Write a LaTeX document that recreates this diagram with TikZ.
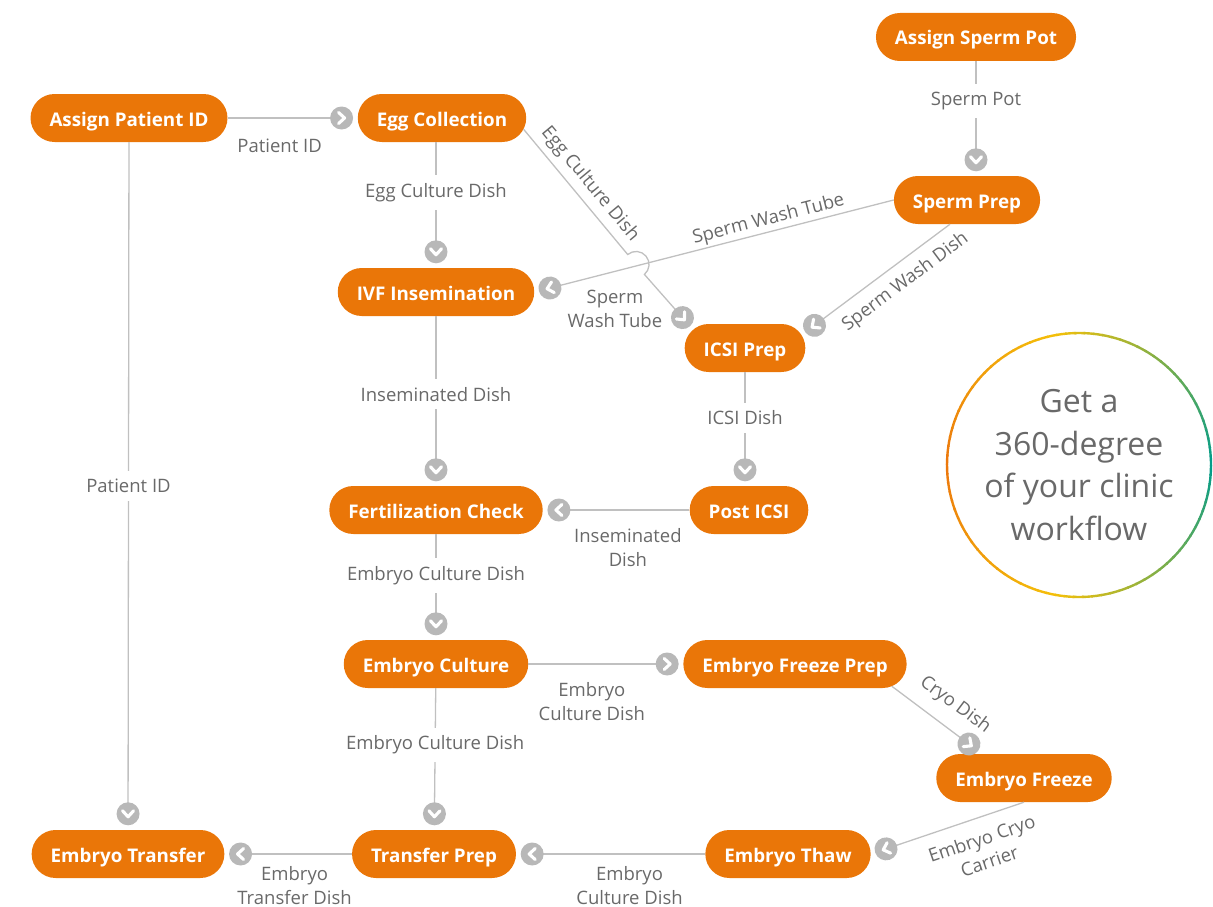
\documentclass[tikz,border=0pt]{standalone}
\usepackage{fontspec}
\setmainfont{Open Sans}
\usepackage{xcolor}
\usepackage{tikz}
\usetikzlibrary{calc,decorations.markings}

\definecolor{stepfill}{RGB}{234,118,8}
\definecolor{linegray}{RGB}{192,192,192}
\definecolor{dotgray}{RGB}{184,184,184}
\definecolor{labelgray}{RGB}{105,105,105}
\definecolor{ringorange}{RGB}{236,118,12}
\definecolor{ringyellow}{RGB}{244,192,10}
\definecolor{ringteal}{RGB}{0,156,140}

\begin{document}
\begin{tikzpicture}[x=1pt, y=-1pt,
    stepbox/.style={rectangle, rounded corners=24pt, fill=stepfill, text=white, font=\bfseries\fontsize{18.8}{20}\selectfont, minimum height=48pt, inner xsep=19pt, text height=17pt, text depth=1pt},
    lbl/.style={text=labelgray, font=\fontsize{18.5}{24}\selectfont, inner sep=2pt, align=center},
    cut/.style={lbl, fill=white, inner ysep=8pt},
    flow/.style={draw=linegray, line width=1.3pt, shorten >=14pt,
      postaction={decorate, decoration={markings, mark=at position 1 with {
        \fill[dotgray] (-16pt,0pt) circle[radius=11.5pt];
        \draw[white, line width=3.1pt, line cap=round, line join=round, shorten >=0pt]
          (-19pt,5.5pt) -- (-13pt,0pt) -- (-19pt,-5.5pt);}}}}
  ]
  \useasboundingbox (0,0) rectangle (1213,907);

  % Steps
  \node[stepbox] (apid) at (129,118) {Assign Patient ID};
  \node[stepbox] (eggc) at (442,118) {Egg Collection};
  \node[stepbox] (spot) at (976,37) {Assign Sperm Pot};
  \node[stepbox] (sprep) at (967,200) {Sperm Prep};
  \node[stepbox] (ivf) at (436,292) {IVF Insemination};
  \node[stepbox] (icsi) at (745,348) {ICSI Prep};
  \node[stepbox] (fcheck) at (436,510) {Fertilization Check};
  \node[stepbox] (posticsi) at (749,510) {Post ICSI};
  \node[stepbox] (eculture) at (436,664) {Embryo Culture};
  \node[stepbox] (fprep) at (795,664) {Embryo Freeze Prep};
  \node[stepbox] (efreeze) at (1024,778) {Embryo Freeze};
  \node[stepbox] (etransfer) at (128,854) {Embryo Transfer};
  \node[stepbox] (tprep) at (434,854) {Transfer Prep};
  \node[stepbox] (ethaw) at (788,854) {Embryo Thaw};

  % Points on the round ends
  \coordinate (eggout) at ($(eggc.east)+(-24,0)+(28:24)$);
  \coordinate (icsiin) at ($(icsi.west)+(24,0)+(230:24)$);
  \coordinate (icsiright) at ($(icsi.east)+(-24,0)+(327:24)$);
  \coordinate (spermout) at ($(sprep.south)+(-17,0)$);
  \coordinate (fprepout) at ($(fprep.east)+(-24,0)+(68:24)$);
  \coordinate (freezein) at ($(efreeze.north)+(-42,0)$);
  \coordinate (hop) at (636,264.5);

  % Edges
  \draw[flow] (apid) -- node[lbl, below=18pt, pos=0.4] {Patient ID} (eggc);
  \draw[flow] (eggc.south -| ivf) -- node[cut, pos=0.4] {Egg Culture Dish} (ivf);
  \draw[flow] (eggout) -- node[lbl, sloped, above=4pt, pos=0.52] {Egg Culture Dish} ($(hop)!13pt!(eggout)$)
    arc[start angle=230, end angle=410, radius=13] -- (icsiin);
  \draw[flow] (spot) -- node[cut, pos=0.35] {Sperm Pot} (sprep.north -| spot);
  \draw[flow] (sprep.west) -- node[lbl, sloped, above=0pt, pos=0.34] {Sperm Wash Tube}
    node[lbl, below=16pt, pos=0.776] {Sperm\\Wash Tube} (ivf.east);
  \draw[flow] (spermout) -- node[lbl, sloped, below=8pt, pos=0.38] {Sperm Wash Dish} (icsiright);
  \draw[flow] (ivf) -- node[cut, pos=0.46] {Inseminated Dish} (fcheck);
  \draw[flow] (icsi) -- node[cut, pos=0.4] {ICSI Dish} (posticsi.north -| icsi);
  \draw[flow] (posticsi) -- node[lbl, below=16pt, pos=0.42] {Inseminated\\Dish} (fcheck);
  \draw[flow] (fcheck) -- node[cut, pos=0.39] {Embryo Culture Dish} (eculture);
  \draw[flow] (eculture) -- node[lbl, below=16pt, pos=0.41] {Embryo\\Culture Dish} (fprep);
  \draw[flow] (eculture) -- node[cut, pos=0.4] {Embryo Culture Dish} (tprep);
  \draw[flow] (fprepout) -- node[lbl, sloped, above=11pt, pos=0.55] {Cryo Dish} (freezein);
  \draw[flow] (efreeze.south) -- node[lbl, sloped, below=11pt, pos=0.32] {Embryo Cryo\\Carrier} (ethaw.east);
  \draw[flow] (ethaw) -- node[lbl, below=10pt, pos=0.4] {Embryo\\Culture Dish} (tprep);
  \draw[flow] (tprep) -- node[lbl, below=10pt, pos=0.45] {Embryo\\Transfer Dish} (etransfer);
  \draw[flow] (apid) -- node[cut, pos=0.5] {Patient ID} (etransfer);

  % Promo circle
  \node[text=labelgray, font=\fontsize{32}{42.5}\selectfont, align=center] (promo) at (1079,465)
    {Get a\\360-degree\\of your clinic\\workflow};
  \foreach \a in {0,4,...,356} {
    \pgfmathsetmacro{\dist}{abs(\a+2-180)}
    \pgfmathsetmacro{\mixo}{max(0,100-\dist*1.25)}
    \pgfmathsetmacro{\mixt}{max(0,min(100,\dist-80))}
    \colorlet{ringmix}{ringteal!\mixt!ringyellow}
    \colorlet{ringc}{ringorange!\mixo!ringmix}
    \draw[ringc, line width=2.4pt] ([shift={(\a:132)}]promo.center) arc[start angle=\a, end angle=\a+4.6, radius=132];
  }
\end{tikzpicture}
\end{document}
